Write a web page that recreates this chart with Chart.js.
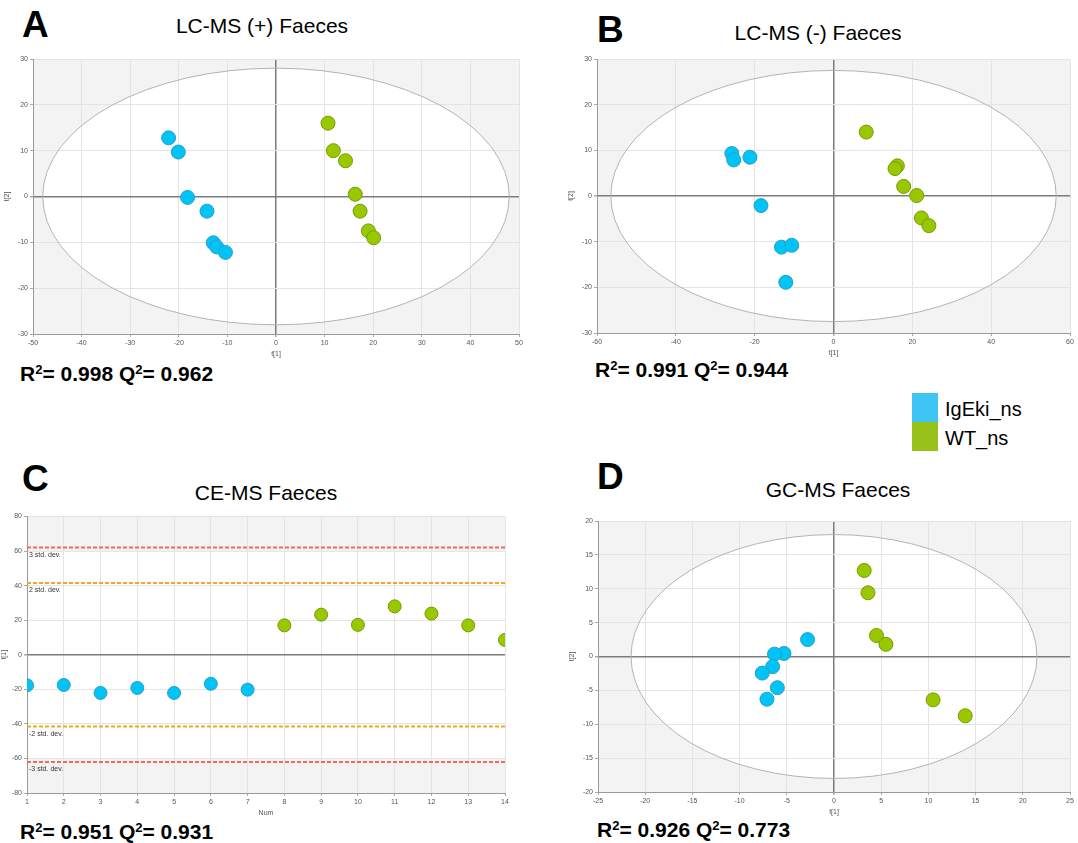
<!DOCTYPE html>
<html>
<head>
<meta charset="utf-8">
<script src="https://cdn.jsdelivr.net/npm/chart.js@4"></script>
<style>
  body { margin: 0; background: #fff; width: 1078px; height: 843px; position: relative; overflow: hidden; font-family: 'Liberation Sans', Arial, sans-serif; }
  canvas { position: absolute; }
  .txt { position: absolute; white-space: nowrap; line-height: 1; color: #000; }
  .letter { font-size: 37px; font-weight: bold; }
  .title { font-size: 21px; transform: translateX(-50%); }
  .stat { font-size: 21px; font-weight: bold; }
  .stat span { font-size: 0.62em; vertical-align: 0.55em; }
  .sw { position: absolute; width: 26px; height: 29px; }
  .leg { font-size: 20px; }
</style>
</head>
<body>
<div class="txt letter" style="left:22px;top:6px">A</div>
<div class="txt title" style="left:262px;top:15px">LC-MS (+) Faeces</div>
<div class="txt letter" style="left:597px;top:11px">B</div>
<div class="txt title" style="left:818px;top:22px">LC-MS (-) Faeces</div>
<div class="txt letter" style="left:22px;top:460px">C</div>
<div class="txt title" style="left:266px;top:482px">CE-MS Faeces</div>
<div class="txt letter" style="left:597px;top:458px">D</div>
<div class="txt title" style="left:838px;top:479px">GC-MS Faeces</div>

<canvas id="chartA"></canvas>
<canvas id="chartB"></canvas>
<canvas id="chartC"></canvas>
<canvas id="chartD"></canvas>

<div class="txt stat" style="left:20px;top:363px">R<span>2</span>= 0.998 Q<span>2</span>= 0.962</div>
<div class="txt stat" style="left:595px;top:359px">R<span>2</span>= 0.991 Q<span>2</span>= 0.944</div>
<div class="txt stat" style="left:20px;top:821px">R<span>2</span>= 0.951 Q<span>2</span>= 0.931</div>
<div class="txt stat" style="left:597px;top:819px">R<span>2</span>= 0.926 Q<span>2</span>= 0.773</div>

<div class="sw" style="left:912px;top:393px;background:#3fc5f4"></div>
<div class="sw" style="left:912px;top:422px;background:#97c21a"></div>
<div class="txt leg" style="left:945px;top:399px">IgEki_ns</div>
<div class="txt leg" style="left:945px;top:428px">WT_ns</div>

<script>
'use strict';

// A: LC-MS (+) scores
let aBlueX = [-22.1, -20.1, -18.2, -14.2, -12.9, -12.2, -10.4];
let aBlueY = [12.8, 9.7, -0.2, -3.2, -10.1, -11.0, -12.2];
let aGreenX = [10.7, 11.8, 14.3, 16.3, 17.3, 19.0, 20.1];
let aGreenY = [16.0, 10.0, 7.8, 0.5, -3.2, -7.5, -9.0];

// B: LC-MS (-) scores
let bBlueX = [-25.8, -25.3, -21.2, -18.4, -13.2, -10.6, -12.1];
let bBlueY = [9.3, 7.9, 8.5, -2.1, -11.2, -10.8, -18.9];
let bGreenX = [8.3, 16.2, 15.6, 17.8, 21.1, 22.3, 24.2];
let bGreenY = [14.0, 6.6, 6.0, 2.1, 0.1, -4.8, -6.5];

// C: CE-MS t[1] by sample number
let cBlueNum = [1, 2, 3, 4, 5, 6, 7];
let cBlueT = [-17.7, -17.5, -22.1, -19.2, -22.1, -16.8, -20.2];
let cGreenNum = [8, 9, 10, 11, 12, 13, 14];
let cGreenT = [17.0, 23.2, 17.3, 28.0, 23.8, 17.0, 8.6];
let cLimits = [
  {value: 62, color: '#f06a5e', label: '3 std. dev.'},
  {value: 41.5, color: '#f6a623', label: '2 std. dev.'},
  {value: -41.5, color: '#f6a623', label: '-2 std. dev.'},
  {value: -62, color: '#f06a5e', label: '-3 std. dev.'}
];

// D: GC-MS scores
let dBlueX = [-2.8, -5.3, -6.3, -6.5, -7.6, -6.0, -7.1];
let dBlueY = [2.5, 0.45, 0.35, -1.5, -2.45, -4.6, -6.3];
let dGreenX = [3.2, 3.6, 4.5, 5.5, 10.5, 13.9];
let dGreenY = [12.7, 9.4, 3.1, 1.8, -6.4, -8.75];

const FONT = "'Liberation Sans', Arial, sans-serif";
const BLUE = '#00c4f5', BLUE_EDGE = '#2a9dcc';
const GREEN = '#99c800', GREEN_EDGE = '#739e00';

function pts(xs, ys) {
  return xs.map((x, i) => ({x: x, y: ys[i]}));
}

// grey shading outside the ellipse / limits, then the ellipse and dashed limits on top of the grid
const backdrop = {
  id: 'backdrop',
  beforeDraw(chart, args, opts) {
    const {ctx, chartArea: a, scales: {x, y}} = chart;
    ctx.save();
    ctx.fillStyle = '#f3f3f3';
    ctx.fillRect(a.left, a.top, a.width, a.height);
    ctx.fillStyle = '#fff';
    if (opts.rx) {
      const cx = x.getPixelForValue(0), cy = y.getPixelForValue(0);
      ctx.beginPath();
      ctx.ellipse(cx, cy, x.getPixelForValue(opts.rx) - cx, cy - y.getPixelForValue(opts.ry), 0, 0, Math.PI * 2);
      ctx.fill();
    }
    if (opts.band) {
      const t = y.getPixelForValue(opts.band), b = y.getPixelForValue(-opts.band);
      ctx.fillRect(a.left, t, a.width, b - t);
    }
    ctx.restore();
  },
  beforeDatasetsDraw(chart, args, opts) {
    const {ctx, chartArea: a, scales: {x, y}} = chart;
    ctx.save();
    if (opts.rx) {
      const cx = x.getPixelForValue(0), cy = y.getPixelForValue(0);
      ctx.strokeStyle = '#b4b4b4';
      ctx.lineWidth = 1;
      ctx.beginPath();
      ctx.ellipse(cx, cy, x.getPixelForValue(opts.rx) - cx, cy - y.getPixelForValue(opts.ry), 0, 0, Math.PI * 2);
      ctx.stroke();
    }
    if (opts.limits) {
      ctx.font = '7px ' + FONT;
      ctx.textBaseline = 'top';
      opts.limits.forEach(l => {
        const py = y.getPixelForValue(l.value);
        ctx.strokeStyle = l.color;
        ctx.lineWidth = 2;
        ctx.setLineDash([4, 2]);
        ctx.beginPath();
        ctx.moveTo(a.left, py);
        ctx.lineTo(a.right, py);
        ctx.stroke();
        ctx.fillStyle = '#333';
        ctx.fillText(l.label, a.left + 2, py + 4);
      });
    }
    ctx.restore();
  }
};

function axis(min, max, step, title) {
  return {
    type: 'linear',
    min: min,
    max: max,
    ticks: {stepSize: step, font: {family: FONT, size: 7}, color: '#555', padding: 2, autoSkip: false, maxRotation: 0},
    grid: {
      color: c => (c.tick && c.tick.value === 0) ? '#7c7c7c' : '#e4e4e4',
      lineWidth: c => (c.tick && c.tick.value === 0) ? 1.5 : 1,
      tickLength: 3,
      tickColor: '#aaa'
    },
    border: {color: '#9a9a9a'},
    title: {display: true, text: title, font: {family: FONT, size: 7}, color: '#555', padding: 0}
  };
}

// plot box given in page pixels: left, top, right, bottom
function panel(id, box, yw, blue, green, xAxis, yAxis, extra) {
  const xh = 24, pt = 6, pr = Math.min(8, 1078 - box[2]);
  const cv = document.getElementById(id);
  const left = box[0] - yw, top = box[1] - pt;
  cv.style.left = left + 'px';
  cv.style.top = top + 'px';
  cv.width = Math.round(box[2] + pr - left);
  cv.height = Math.round(box[3] + xh - top);
  xAxis.afterFit = s => { s.height = xh; };
  yAxis.afterFit = s => { s.width = yw; };
  return new Chart(cv, {
    type: 'scatter',
    data: {
      datasets: [{
        label: 'IgEki_ns',
        data: blue,
        backgroundColor: BLUE,
        borderColor: BLUE_EDGE,
        borderWidth: 1,
        pointRadius: extra.r,
        pointHoverRadius: extra.r
      }, {
        label: 'WT_ns',
        data: green,
        backgroundColor: GREEN,
        borderColor: GREEN_EDGE,
        borderWidth: 1,
        pointRadius: extra.r,
        pointHoverRadius: extra.r
      }]
    },
    options: {
      responsive: false,
      animation: false,
      layout: {padding: {top: pt, right: pr, left: 0, bottom: 0}},
      scales: {x: xAxis, y: yAxis},
      plugins: {
        legend: {display: false},
        tooltip: {enabled: false},
        backdrop: extra
      }
    },
    plugins: [backdrop]
  });
}

panel('chartA', [33, 56.5, 519, 333.5], 30,
  pts(aBlueX, aBlueY), pts(aGreenX, aGreenY),
  axis(-50, 50, 10, 't[1]'), axis(-30, 30, 10, 't[2]'),
  {r: 7, rx: 48, ry: 28});

panel('chartB', [596.7, 57.3, 1076, 333.3], 30,
  pts(bBlueX, bBlueY), pts(bGreenX, bGreenY),
  axis(-60, 60, 20, 't[1]'), axis(-30, 30, 10, 't[2]'),
  {r: 7, rx: 56.5, ry: 27.5});

panel('chartC', [27.3, 515, 505.6, 793], 27,
  pts(cBlueNum, cBlueT), pts(cGreenNum, cGreenT),
  axis(1, 14, 1, 'Num'), axis(-80, 80, 20, 't[1]'),
  {r: 6.5, band: 60, limits: cLimits});

panel('chartD', [598, 519, 1074.7, 792], 30,
  pts(dBlueX, dBlueY), pts(dGreenX, dGreenY),
  axis(-25, 25, 5, 't[1]'), axis(-20, 20, 5, 't[2]'),
  {r: 7, rx: 21.5, ry: 18});
</script>
</body>
</html>
